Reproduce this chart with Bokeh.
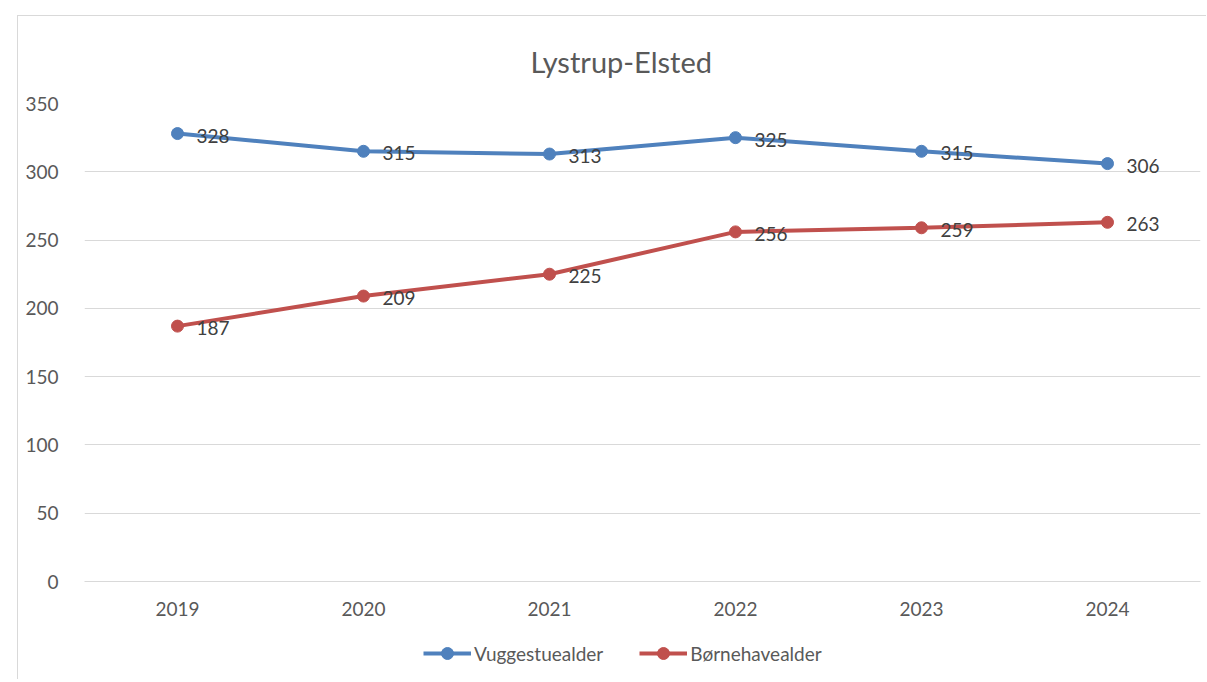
from bokeh.plotting import figure
from bokeh.layouts import column
from bokeh.models import ColumnDataSource, Range1d, Legend, LegendItem, LabelSet
from bokeh.core.properties import value
from bokeh.embed import file_html
from bokeh.resources import INLINE

years = ["2019", "2020", "2021", "2022", "2023", "2024"]
vuggestue = [328, 315, 313, 325, 315, 306]
boernehave = [187, 209, 225, 256, 259, 263]
y_ticks = [0, 50, 100, 150, 200, 250, 300, 350]
series_names = ["Vuggestuealder", "Børnehavealder"]

BLUE = "#4f81bd"
RED = "#c0504d"
FONT = "Lato"
FS = "19px"

p = figure(
    x_range=years, y_range=Range1d(0, 350),
    frame_width=1116, frame_height=478,
    min_border_left=66, min_border_right=6, min_border_top=86, min_border_bottom=50,
    output_backend="svg", toolbar_location=None,
    title="Lystrup-Elsted",
)
p.outline_line_color = None
p.background_fill_color = "white"
p.border_fill_color = "white"

p.title.align = "left"
p.title.offset = 446
p.title.text_font = FONT
p.title.text_font_size = "29px"
p.title.text_font_style = "normal"
p.title.text_color = "#595959"
p.title.standoff = 50

p.xgrid.grid_line_color = None
p.ygrid.grid_line_color = "#d9d9d9"
p.ygrid.grid_line_width = 1
p.yaxis.ticker = y_ticks
p.yaxis.axis_line_color = None
p.yaxis.major_tick_line_color = None
p.yaxis.minor_tick_line_color = None
p.yaxis.major_label_standoff = 20
p.xaxis.axis_line_color = "#d9d9d9"
p.xaxis.major_tick_line_color = None
p.xaxis.minor_tick_line_color = None
p.xaxis.major_label_standoff = 14
for ax in (p.xaxis[0], p.yaxis[0]):
    ax.major_label_text_font = FONT
    ax.major_label_text_font_size = FS
    ax.major_label_text_color = "#595959"

src_v = ColumnDataSource(dict(x=years, y=vuggestue, t=[str(v) for v in vuggestue]))
src_b = ColumnDataSource(dict(x=years, y=boernehave, t=[str(v) for v in boernehave]))

p.line("x", "y", source=src_v, line_color=BLUE, line_width=4)
p.scatter("x", "y", source=src_v, size=12, fill_color=BLUE, line_color=BLUE)
p.line("x", "y", source=src_b, line_color=RED, line_width=4)
p.scatter("x", "y", source=src_b, size=12, fill_color=RED, line_color=RED)

for src in (src_v, src_b):
    p.add_layout(LabelSet(x="x", y="y", text="t", source=src, x_offset=19, y_offset=-2,
                          text_baseline="middle", text_font=value(FONT), text_font_size=value(FS),
                          text_color="#404040"))

# legend strip (separate small figure directly below the chart)
q = figure(
    x_range=Range1d(0, 1), y_range=Range1d(0, 1),
    frame_width=1188, frame_height=48,
    min_border_left=0, min_border_right=0, min_border_top=0, min_border_bottom=0,
    output_backend="svg", toolbar_location=None,
)
q.axis.visible = False
q.grid.visible = False
q.outline_line_color = None
q.border_fill_color = "white"
items = []
for name, col in zip(series_names, [BLUE, RED]):
    # legend-key renderers, placed outside the visible range of the strip
    r1 = q.line(x=[5, 6], y=[5, 5], line_color=col, line_width=4)
    r2 = q.scatter(x=[5], y=[5], size=12, fill_color=col, line_color=col)
    items.append(LegendItem(label=name, renderers=[r1, r2]))

legend = Legend(items=items, orientation="horizontal", location=(405, 11),
                glyph_width=48, glyph_height=30, label_standoff=3, spacing=36,
                label_text_font=FONT, label_text_font_size=FS, label_text_color="#595959",
                background_fill_alpha=0, border_line_color=None, margin=0, padding=2)
q.add_layout(legend, "center")

layout = column(p, q, spacing=0, margin=(15, 0, 0, 17),
                styles={"border-left": "1px solid #d9d9d9", "border-top": "1px solid #d9d9d9"})

open("out.html", "w").write(file_html(layout, INLINE))
